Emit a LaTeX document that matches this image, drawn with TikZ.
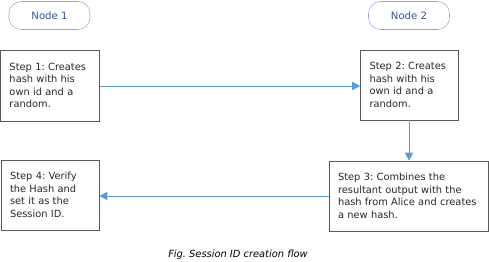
\documentclass[tikz,border=0pt]{standalone}
\usepackage{fontspec}
\setmainfont{DejaVu Sans}
\usetikzlibrary{arrows.meta}
\frenchspacing

\definecolor{flowblue}{RGB}{91,155,213}
\definecolor{labelblue}{RGB}{47,85,151}
\definecolor{pillline}{RGB}{143,170,214}
\definecolor{boxline}{RGB}{90,90,90}

\tikzset{
  pill/.style={draw=pillline, rounded corners=9, minimum width=60.75pt,
    minimum height=21pt, text=labelblue, font=\fontsize{7.6}{9.4}\selectfont},
  stepbox/.style={draw=boxline, align=left, inner xsep=6.75pt, inner ysep=0pt,
    font=\fontsize{7.4}{9.4}\selectfont, text=black!85},
  flow/.style={draw=flowblue, line width=0.75pt,
    -{Triangle[width=6pt,length=6pt]}},
}

\begin{document}
\begin{tikzpicture}[x=0.75pt,y=0.75pt,yscale=-1]
\useasboundingbox (0,0) rectangle (489,261);

% header pills
\node [pill] (n1) at (49.5,15.5) {Node 1};
\node [pill] (n2) at (409,15.5) {Node 2};

% the four steps
\node [stepbox, text width=60.75pt, minimum height=53.25pt] (s1) at (50,85.5)
  {Step 1: Creates\\hash with his\\own id and a\\random.};
\node [stepbox, text width=60pt, minimum height=52.5pt] (s2) at (409.5,85)
  {Step 2: Creates\\hash with his\\own id and a\\random.};
\node [stepbox, text width=105.75pt, minimum height=52.5pt] (s3) at (408.5,196)
  {Step 3: Combines the\\resultant output with the\\hash from Alice and creates\\a new hash.};
\node [stepbox, text width=60pt, minimum height=52.5pt] (s4) at (50,195)
  {Step 4: Verify\\the Hash and\\set it as the\\Session ID.};

% connectors
\draw [flow] (s1.east |- 0,86) -- (s2.west |- 0,86);
\draw [flow] (s2.south -| 409,0) -- (s3.north -| 409,0);
\draw [flow] (s3.west |- 0,196) -- (s4.east |- 0,196);

% caption
\node (cap) at (238,255) {\fontsize{7.4}{9.4}\selectfont\itshape Fig. Session ID creation flow};

\end{tikzpicture}
\end{document}
